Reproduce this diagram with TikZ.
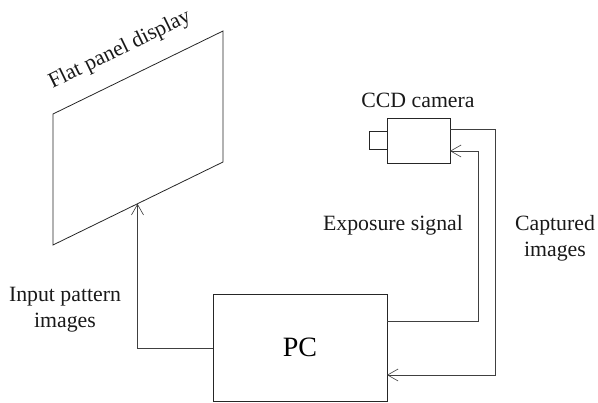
\documentclass[tikz,border=0pt]{standalone}
\usepackage{fontspec}
\setmainfont{Liberation Serif}
\usetikzlibrary{arrows.meta}
\tikzset{
  box/.style={draw=black!85,line width=0.8pt,rectangle,inner sep=0pt,outer sep=0pt},
  wire/.style={draw=black!75,line width=0.8pt},
  arr/.style={wire,-{Straight Barb[length=10.5pt,width=12pt,line width=0.6pt]}},
  lbl/.style={font=\fontsize{21.8pt}{26pt}\selectfont,align=center,inner sep=0pt,text=black!90},
}
\begin{document}
\begin{tikzpicture}[x=1pt,y=-1pt]
\useasboundingbox (0,0) rectangle (598,403);
% display
\coordinate (d1) at (53,114);
\coordinate (d2) at (223,31);
\coordinate (d3) at (223,162);
\coordinate (d4) at (53,245);
\draw[box] (d1) -- (d2) -- (d3) -- (d4) -- cycle;
\coordinate (dtip) at (137.5,203.8);
% camera
\node[box,minimum width=63pt,minimum height=45pt] (cam) at (418.5,140.5) {};
\node[box,minimum width=18pt,minimum height=18pt] (lens) at (378,140.5) {};
% PC
\node[box,minimum width=174pt,minimum height=107pt,font=\fontsize{28pt}{32pt}\selectfont] (pc) at (300,347.5) {PC};
% connectors
\coordinate (c1) at (450,129);
\coordinate (c2) at (495,129);
\coordinate (c3) at (495,375);
\coordinate (c4) at (387,375);
\draw[arr] (c1) -- (c2) -- (c3) -- (c4);
\coordinate (e1) at (387,321);
\coordinate (e2) at (478,321);
\coordinate (e3) at (478,151);
\coordinate (e4) at (450,151);
\draw[arr] (e1) -- (e2) -- (e3) -- (e4);
\coordinate (i1) at (213,348);
\coordinate (i2) at (137.5,348);
\draw[arr] (i1) -- (i2) -- (dtip);
% labels
\node[lbl,rotate=26,anchor=center] (t1) at (120,50) {Flat panel display};
\node[lbl] (t2) at (418,100) {CCD camera};
\node[lbl] (t3) at (393,225) {Exposure signal};
\node[lbl] (t4) at (555,238) {Captured\\images};
\node[lbl] (t5) at (65,310) {Input pattern\\images};
\end{tikzpicture}
\end{document}
